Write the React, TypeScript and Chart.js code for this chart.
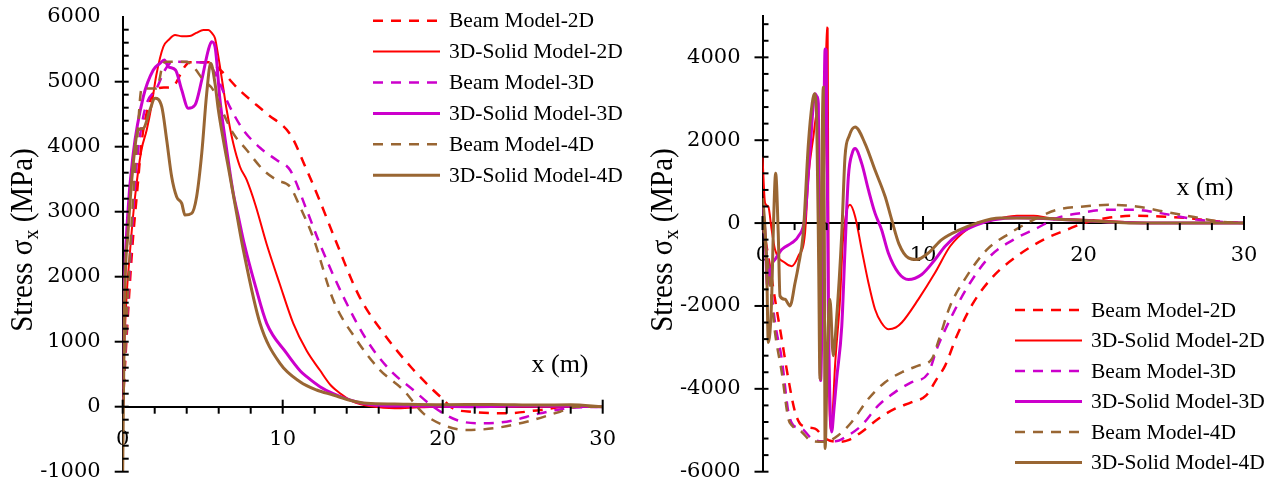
import React, { useEffect, useRef } from "react";
import { Chart, registerables } from "chart.js";

Chart.register(...registerables);

const PANEL_W = 636;
const PANEL_H = 487;
const Y_AXIS_BOX = 100;

const seriesLabels = [
  "Beam Model-2D",
  "3D-Solid Model-2D",
  "Beam Model-3D",
  "3D-Solid Model-3D",
  "Beam Model-4D",
  "3D-Solid Model-4D",
];
const seriesColors = ["#ff0000", "#ff0000", "#cc00cc", "#cc00cc", "#996633", "#996633"];
const seriesDashed = [true, false, true, false, true, false];
const seriesWidths = [2.5, 2, 2.5, 3, 2.5, 3];

const xTickValues = [0, 10, 20, 30];
const leftYTickValues = [-1000, 0, 1000, 2000, 3000, 4000, 5000, 6000];
const rightYTickValues = [-6000, -4000, -2000, 0, 2000, 4000];

// ---- Left panel: tensile stress along x ----
const leftBeam2DX = [0, 0.3, 0.6, 0.9, 1.2, 1.6, 2.1, 2.6, 3.0, 3.3, 3.8, 4.2, 5.4, 6.1, 7.3, 9.0, 10.5, 11.4, 12.3, 13.3, 14.8, 16.3, 18.0, 19.4, 20.0, 20.6, 21.9, 24.0, 26.1, 27.8, 30];
const leftBeam2DY = [0, 1300, 2450, 3300, 4100, 4615, 4890, 4910, 4915, 4970, 5205, 5300, 5300, 5180, 4870, 4510, 4180, 3700, 3180, 2560, 1690, 1130, 615, 257, 120, -20, -80, -100, -50, 0, 0];

const leftSolid2DX = [0, 0.1, 0.23, 0.43, 0.75, 1.17, 1.5, 1.79, 2.1, 2.54, 2.9, 3.27, 3.7, 4.2, 4.6, 5.04, 5.35, 5.6, 5.77, 5.9, 6.08, 6.3, 6.5, 6.91, 7.33, 7.75, 8.3, 9.0, 9.8, 10.66, 11.5, 12.33, 13.0, 13.58, 14.3, 14.83, 15.5, 17, 18.5, 20, 30];
const leftSolid2DY = [0, 900, 1641, 2308, 3180, 3949, 4257, 4615, 5100, 5538, 5650, 5718, 5700, 5703, 5750, 5795, 5795, 5740, 5667, 5500, 5231, 4880, 4565, 4052, 3692, 3488, 3100, 2500, 1900, 1283, 860, 560, 330, 206, 90, 40, 5, -25, -10, 0, 0];

const leftBeam3DX = [0, 0.3, 0.6, 0.9, 1.2, 1.5, 2.12, 2.64, 3.16, 4.5, 5.3, 5.66, 6.08, 6.5, 6.91, 7.54, 8.6, 9.62, 10.46, 11.5, 12.33, 13.79, 15.25, 16.7, 18.16, 19.41, 20.87, 22.33, 24.0, 26.08, 27.75, 30];
const leftBeam3DY = [0, 1500, 2800, 3800, 4350, 4667, 4897, 5180, 5308, 5300, 5290, 5180, 4974, 4718, 4513, 4256, 3980, 3795, 3641, 3026, 2500, 1692, 1026, 564, 257, 0, -205, -256, -230, -103, -26, 0];

const leftSolid3DX = [0, 0.08, 0.3, 0.66, 1.29, 1.91, 2.33, 2.6, 2.85, 3.3, 3.69, 4.1, 4.52, 4.94, 5.35, 5.56, 5.77, 6.08, 6.5, 6.91, 7.23, 7.6, 8.3, 9.0, 10.25, 11.1, 11.5, 12.33, 13.16, 14.0, 14.83, 16, 18, 20, 22, 25, 28, 30];
const leftSolid3DY = [0, 1538, 2900, 3897, 4769, 5180, 5283, 5333, 5231, 5180, 4872, 4590, 4641, 5026, 5487, 5615, 5538, 4718, 3949, 3283, 2923, 2500, 1850, 1283, 821, 550, 462, 308, 200, 120, 60, 20, 10, 5, 0, 10, 5, 0];

const leftBeam4DX = [0, 0.3, 0.6, 0.9, 1.19, 2.12, 2.54, 2.75, 3.99, 4.41, 5.04, 5.66, 6.29, 6.91, 7.75, 8.79, 9.62, 10.46, 11.08, 11.91, 13.16, 14.62, 16.08, 17.54, 18.79, 20.04, 21.5, 23.16, 25.25, 27.33, 28.37, 30];
const leftBeam4DY = [0, 1600, 3000, 4100, 4897, 4897, 5283, 5308, 5308, 5231, 5026, 4872, 4513, 4205, 3949, 3641, 3487, 3385, 3077, 2600, 1641, 1026, 564, 257, -102, -282, -359, -333, -231, -77, 0, 0];

const leftSolid4DX = [0, 0.04, 0.12, 0.33, 0.64, 0.96, 1.29, 1.7, 2.02, 2.44, 2.75, 3.06, 3.37, 3.69, 3.89, 4.31, 4.62, 4.94, 5.25, 5.5, 5.77, 5.98, 6.29, 6.71, 7.12, 7.54, 8.58, 9.83, 11.08, 12.12, 13.16, 14.2, 15.25, 17, 20, 23, 26, 28, 30];
const leftSolid4DY = [-1000, 0, 1641, 2667, 3692, 4256, 4282, 4564, 4744, 4615, 4103, 3538, 3231, 3128, 2949, 2975, 3231, 3897, 4821, 5283, 4974, 4564, 4103, 3538, 2975, 2411, 1283, 667, 385, 257, 180, 100, 52, 40, 30, 35, 25, 30, 0];

// ---- Right panel: compressive stress along x ----
const rightBeam2DX = [0, 0.4, 0.78, 1.2, 1.61, 2.03, 2.44, 3.27, 3.9, 4.73, 5.35, 6.18, 7.22, 8.26, 9.3, 10.2, 10.86, 11.38, 12.11, 13.14, 14.39, 15.85, 17.51, 18.97, 20, 21.46, 23.1, 24.8, 26.5, 28.4, 30];
const rightBeam2DY = [0, -900, -1840, -2800, -3760, -4560, -4880, -4960, -5200, -5280, -5240, -5040, -4720, -4480, -4320, -4160, -3760, -3440, -2720, -1920, -1280, -800, -400, -160, 0, 120, 175, 160, 120, 40, 0];

const rightSolid2DX = [0, 0.16, 0.36, 0.57, 0.78, 1.4, 1.82, 2.23, 2.65, 2.86, 3.17, 3.38, 3.5, 3.65, 3.85, 4.0, 4.06, 4.12, 4.22, 4.35, 4.52, 4.83, 5.0, 5.2, 5.45, 5.77, 6.18, 6.6, 7.01, 7.4, 7.84, 8.3, 8.68, 9.71, 10.75, 11.69, 12.73, 13.77, 14.8, 15.85, 16.9, 17.9, 20, 22.1, 24.2, 30];
const rightSolid2DY = [1600, 480, 400, -160, -640, -960, -1040, -800, -240, 1120, 2080, 2640, 1500, -800, 1500, 4720, 4700, -2000, -4960, -4700, -3440, -1840, -500, 200, 440, 160, -640, -1440, -2080, -2400, -2560, -2520, -2400, -1840, -1200, -560, -160, 40, 120, 175, 175, 120, 80, 40, 0, 0];

const rightBeam3DX = [0, 0.4, 0.78, 1.2, 1.61, 1.92, 2.44, 3.07, 3.69, 4.52, 5.35, 6.18, 7.22, 8.26, 9.3, 10.3, 10.9, 11.9, 12.94, 14.18, 15.64, 17.1, 18.34, 19.79, 21.46, 23.1, 24.8, 26.5, 28.2, 30];
const rightBeam3DY = [0, -1100, -2400, -3280, -4560, -4880, -4960, -5200, -5265, -5265, -5120, -4880, -4400, -4080, -3840, -3640, -3000, -2160, -1440, -800, -400, -120, 120, 240, 320, 320, 240, 120, 40, 0];

const rightSolid3DX = [0, 0.16, 0.3, 0.36, 0.47, 0.6, 0.78, 1.2, 1.82, 2.23, 2.65, 2.96, 3.27, 3.4, 3.48, 3.55, 3.62, 3.75, 3.9, 3.97, 4.1, 4.31, 4.45, 4.62, 4.94, 5.14, 5.35, 5.6, 5.77, 6.18, 6.6, 7.01, 7.42, 7.84, 8.47, 9.09, 9.92, 10.75, 11.38, 12.31, 13.35, 14.4, 15.85, 18, 20, 22, 24, 30];
const rightSolid3DY = [400, -240, -1500, -1040, -1440, -1000, -880, -640, -480, -320, 160, 1760, 3120, 3050, 2880, -1000, -3800, -1000, 4200, 4150, -2000, -5040, -4500, -3760, -2480, -640, 1120, 1700, 1800, 1440, 800, 240, -160, -720, -1200, -1360, -1240, -880, -560, -240, -40, 80, 130, 100, 60, 20, 0, 0];

const rightBeam4DX = [0, 0.4, 0.78, 1.2, 1.61, 1.82, 2.44, 3.07, 3.9, 4.73, 5.56, 6.6, 7.64, 8.68, 9.71, 10.55, 11.0, 11.69, 12.73, 13.98, 15.43, 16.88, 18.34, 20, 21.66, 23.3, 25, 26.7, 28.4, 30];
const rightBeam4DY = [0, -1200, -2640, -3600, -4720, -4880, -5040, -5265, -5280, -5120, -4800, -4240, -3840, -3600, -3440, -3280, -2800, -2000, -1280, -640, -240, 80, 320, 400, 440, 400, 280, 160, 40, 0];

const rightSolid4DX = [0, 0.1, 0.26, 0.36, 0.57, 0.67, 0.82, 0.98, 1.09, 1.4, 1.71, 2.03, 2.23, 2.54, 2.86, 3.1, 3.23, 3.38, 3.5, 3.58, 3.65, 3.79, 3.85, 3.9, 4.05, 4.2, 4.41, 4.6, 4.94, 5.14, 5.4, 5.77, 6.39, 7.01, 7.64, 8.05, 8.5, 9.09, 9.6, 10.34, 11.17, 12.31, 13.35, 14.8, 16.9, 19, 21.1, 23.1, 30];
const rightSolid4DY = [600, 200, -1040, -2880, -1840, -240, 1200, -240, -1760, -1840, -2000, -1440, -1040, -240, 1920, 2900, 3120, 2480, -1000, -3760, -500, 3280, 0, -5440, -3000, -1840, -3200, -2400, -240, 1600, 2100, 2320, 1920, 1280, 640, 80, -500, -840, -880, -720, -400, -160, 0, 120, 120, 80, 40, 0, 0];

type Series = { x: number[]; y: number[] };

type PanelSpec = {
  left: number;
  series: Series[];
  yMin: number;
  yMax: number;
  yMajor: number;
  yMinor: number;
  yTicks: number[];
  padding: { left: number; right: number; top: number; bottom: number };
  axisTitleX: number;
  axisTitleY: number;
  yTitleX: number;
  yTitleY: number;
  legendX: number;
  legendY: number;
  legendGap: number;
};

const leftPanel: PanelSpec = {
  left: 0,
  series: [
    { x: leftBeam2DX, y: leftBeam2DY },
    { x: leftSolid2DX, y: leftSolid2DY },
    { x: leftBeam3DX, y: leftBeam3DY },
    { x: leftSolid3DX, y: leftSolid3DY },
    { x: leftBeam4DX, y: leftBeam4DY },
    { x: leftSolid4DX, y: leftSolid4DY },
  ],
  yMin: -1000,
  yMax: 6000,
  yMajor: 1000,
  yMinor: 200,
  yTicks: leftYTickValues,
  padding: { left: 122.7 - Y_AXIS_BOX, right: 33.3, top: 16.7, bottom: 15.3 },
  axisTitleX: 560,
  axisTitleY: 365,
  yTitleX: 31.5,
  yTitleY: 240,
  legendX: 373,
  legendY: 20.7,
  legendGap: 30.9,
};

const rightPanel: PanelSpec = {
  left: PANEL_W,
  series: [
    { x: rightBeam2DX, y: rightBeam2DY },
    { x: rightSolid2DX, y: rightSolid2DY },
    { x: rightBeam3DX, y: rightBeam3DY },
    { x: rightSolid3DX, y: rightSolid3DY },
    { x: rightBeam4DX, y: rightBeam4DY },
    { x: rightSolid4DX, y: rightSolid4DY },
  ],
  yMin: -6000,
  yMax: 5000,
  yMajor: 2000,
  yMinor: 400,
  yTicks: rightYTickValues,
  padding: { left: 126.5 - Y_AXIS_BOX, right: 28, top: 15.9, bottom: 15.3 },
  axisTitleX: 569,
  axisTitleY: 188,
  yTitleX: 35.5,
  yTitleY: 240,
  legendX: 379,
  legendY: 310,
  legendGap: 30.5,
};

const TICK_FONT = { family: '"DejaVu Serif"', size: 21 };
const TEXT_FAMILY = '"Liberation Serif"';

// Minor/major tick marks, axis titles and the line legend
const decorPlugin = {
  id: "decor",
  afterDraw(chart: any, _args: any, opts: any) {
    const ctx: CanvasRenderingContext2D = chart.ctx;
    const xs = chart.scales.x;
    const ys = chart.scales.y;
    const x0 = xs.getPixelForValue(0);
    const y0 = ys.getPixelForValue(0);

    ctx.save();
    ctx.strokeStyle = "#000";
    ctx.lineWidth = 2;
    ctx.setLineDash([]);
    for (let v = 0; v <= 30; v += 2) {
      const p = xs.getPixelForValue(v);
      const major = v % 10 === 0;
      ctx.beginPath();
      ctx.moveTo(p, major ? y0 - 7 : y0);
      ctx.lineTo(p, y0 + 7);
      ctx.stroke();
    }
    for (let v = opts.yMin; v < opts.yMax; v += opts.yMinor) {
      const p = ys.getPixelForValue(v);
      const major = Math.abs(v % opts.yMajor) < 1e-6;
      ctx.beginPath();
      ctx.moveTo(major ? x0 - 8 : x0, p);
      ctx.lineTo(x0 + 6, p);
      ctx.stroke();
    }

    ctx.fillStyle = "#000";

    // x axis title
    ctx.font = `26px ${TEXT_FAMILY}`;
    ctx.textAlign = "center";
    ctx.textBaseline = "middle";
    ctx.fillText("x (m)", opts.axisTitleX, opts.axisTitleY);

    // y axis title with subscript
    const mainFont = `29px ${TEXT_FAMILY}`;
    const subFont = `20px ${TEXT_FAMILY}`;
    const parts = [
      { t: "Stress σ", f: mainFont, dy: 0 },
      { t: "x", f: subFont, dy: 6 },
      { t: " (MPa)", f: mainFont, dy: 0 },
    ];
    let total = 0;
    const widths = parts.map((p) => {
      ctx.font = p.f;
      const w = ctx.measureText(p.t).width;
      total += w;
      return w;
    });
    ctx.save();
    ctx.translate(opts.yTitleX, opts.yTitleY);
    ctx.scale(1.1, 1);
    ctx.rotate(-Math.PI / 2);
    ctx.textAlign = "left";
    ctx.textBaseline = "alphabetic";
    let u = -total / 2;
    parts.forEach((p, i) => {
      ctx.font = p.f;
      ctx.fillText(p.t, u, p.dy);
      u += widths[i];
    });
    ctx.restore();

    // legend
    ctx.font = `21.5px ${TEXT_FAMILY}`;
    ctx.textAlign = "left";
    ctx.textBaseline = "middle";
    chart.data.datasets.forEach((ds: any, i: number) => {
      const y = opts.legendY + i * opts.legendGap;
      ctx.strokeStyle = ds.borderColor;
      ctx.lineWidth = ds.borderWidth;
      ctx.setLineDash(ds.borderDash || []);
      ctx.beginPath();
      ctx.moveTo(opts.legendX, y);
      ctx.lineTo(opts.legendX + 67, y);
      ctx.stroke();
      ctx.setLineDash([]);
      ctx.fillStyle = "#000";
      ctx.fillText(ds.label, opts.legendX + 76, y + 1);
    });
    ctx.restore();
  },
};

function StressPanel({ spec }: { spec: PanelSpec }) {
  const ref = useRef<HTMLCanvasElement>(null);

  useEffect(() => {
    if (!ref.current) return;
    const chart = new Chart(ref.current, {
      type: "line",
      data: {
        datasets: spec.series.map((s, i) => ({
          label: seriesLabels[i],
          data: s.x.map((x, k) => ({ x, y: s.y[k] })),
          borderColor: seriesColors[i],
          backgroundColor: seriesColors[i],
          borderWidth: seriesWidths[i],
          borderDash: seriesDashed[i] ? [10, 8] : [],
          borderCapStyle: "butt",
          pointRadius: 0,
          fill: false,
          cubicInterpolationMode: "monotone",
          order: 6 - i,
        })),
      },
      options: {
        responsive: false,
        animation: false,
        devicePixelRatio: 1,
        events: [],
        layout: { padding: spec.padding },
        plugins: {
          legend: { display: false },
          tooltip: { enabled: false },
          decor: {
            yMin: spec.yMin,
            yMax: spec.yMax,
            yMajor: spec.yMajor,
            yMinor: spec.yMinor,
            axisTitleX: spec.axisTitleX,
            axisTitleY: spec.axisTitleY,
            yTitleX: spec.yTitleX,
            yTitleY: spec.yTitleY,
            legendX: spec.legendX,
            legendY: spec.legendY,
            legendGap: spec.legendGap,
          },
        } as any,
        scales: {
          x: {
            type: "linear",
            min: 0,
            max: 30,
            position: { y: 0 } as any,
            grid: { display: false, drawTicks: false },
            border: { display: true, color: "#000", width: 2 },
            afterBuildTicks: (axis: any) => {
              axis.ticks = xTickValues.map((value) => ({ value }));
            },
            afterFit: (axis: any) => {
              axis.paddingLeft = 0;
              axis.paddingRight = 0;
              axis.paddingTop = 0;
              axis.paddingBottom = 0;
            },
            ticks: {
              color: "#000",
              font: TICK_FONT,
              padding: 20,
              maxRotation: 0,
              autoSkip: false,
              callback: (v: any) => String(v),
            },
          },
          y: {
            type: "linear",
            min: spec.yMin,
            max: spec.yMax,
            position: "left",
            grid: { display: false, drawTicks: false },
            border: { display: true, color: "#000", width: 2 },
            afterBuildTicks: (axis: any) => {
              axis.ticks = spec.yTicks.map((value) => ({ value }));
            },
            afterFit: (axis: any) => {
              axis.width = Y_AXIS_BOX;
              axis.paddingTop = 0;
              axis.paddingBottom = 0;
              axis.paddingLeft = 0;
              axis.paddingRight = 0;
            },
            ticks: {
              color: "#000",
              font: TICK_FONT,
              padding: 22,
              autoSkip: false,
              callback: (v: any) => String(v),
            },
          },
        },
      },
      plugins: [decorPlugin],
    } as any);
    return () => chart.destroy();
  }, [spec]);

  return (
    <canvas
      ref={ref}
      width={PANEL_W}
      height={PANEL_H}
      style={{ position: "absolute", left: spec.left, top: 0, width: PANEL_W, height: PANEL_H }}
    />
  );
}

export default function App() {
  return (
    <div
      style={{
        position: "fixed",
        left: 0,
        top: 0,
        width: PANEL_W * 2,
        height: PANEL_H,
        background: "#fff",
        overflow: "hidden",
      }}
    >
      <StressPanel spec={leftPanel} />
      <StressPanel spec={rightPanel} />
    </div>
  );
}
